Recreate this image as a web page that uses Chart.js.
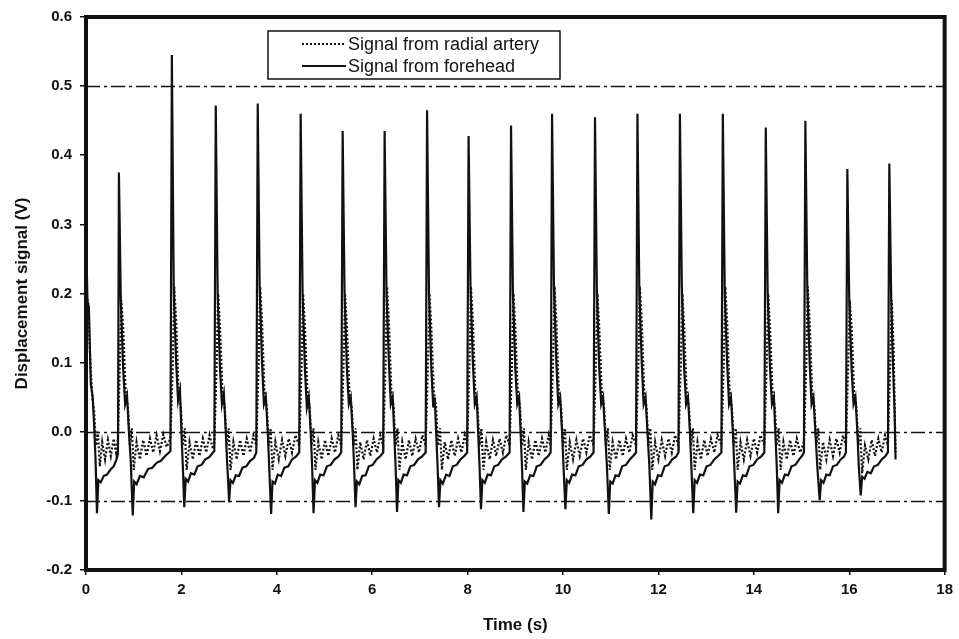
<!DOCTYPE html>
<html>
<head>
<meta charset="utf-8">
<title>Displacement signal</title>
<script src="https://cdn.jsdelivr.net/npm/chart.js@4.4.1/dist/chart.umd.min.js"></script>
<style>
  html, body { margin: 0; padding: 0; background: #fff; }
  #wrap { width: 959px; height: 639px; position: relative; }
</style>
</head>
<body>
<div id="wrap"><canvas id="pulseChart"></canvas></div>
<script>
// axis ticks
const xTicks = [0, 2, 4, 6, 8, 10, 12, 14, 16, 18];
const yTicks = [-0.2, -0.1, 0.0, 0.1, 0.2, 0.3, 0.4, 0.5, 0.6];
// dash-dot reference levels (V)
const refLevels = [0.5, 0.0, -0.1];
const seriesNames = ['Signal from radial artery', 'Signal from forehead'];

// [time (s), signal (V)] - radial artery sensor
const radial = [
  [0.00,0.19],[0.04,0.19],[0.08,0.12],[0.13,0.05],[0.17,0.03],[0.21,-0.02],[0.25,0.0],[0.29,-0.05],[0.34,-0.015],[0.40,-0.04],[0.46,-0.012],[0.52,-0.035],[0.58,-0.01],[0.63,-0.03],[0.67,-0.01],
  [0.71,0.10],[0.74,0.19],[0.78,0.15],[0.83,0.06],[0.88,0.035],[0.92,-0.02],[0.96,0.005],[1.00,-0.055],[1.06,-0.015],[1.13,-0.04],[1.20,-0.012],[1.27,-0.035],[1.34,-0.01],[1.41,-0.03],[1.48,-0.005],[1.55,-0.028],[1.62,-0.004],[1.69,-0.022],[1.77,-0.01],
  [1.82,0.10],[1.85,0.21],[1.89,0.16],[1.94,0.06],[1.99,0.035],[2.03,-0.02],[2.07,0.005],[2.11,-0.055],[2.17,-0.015],[2.24,-0.04],[2.31,-0.012],[2.38,-0.035],[2.45,-0.01],[2.52,-0.03],[2.59,-0.005],[2.66,-0.025],[2.69,-0.015],
  [2.74,0.10],[2.77,0.20],[2.81,0.15],[2.86,0.06],[2.91,0.035],[2.95,-0.02],[2.99,0.005],[3.03,-0.055],[3.09,-0.015],[3.16,-0.04],[3.23,-0.012],[3.30,-0.035],[3.37,-0.01],[3.44,-0.03],[3.51,-0.005],[3.57,-0.02],
  [3.62,0.10],[3.65,0.21],[3.69,0.16],[3.74,0.06],[3.79,0.035],[3.83,-0.02],[3.87,0.005],[3.91,-0.055],[3.97,-0.015],[4.04,-0.04],[4.11,-0.012],[4.18,-0.035],[4.25,-0.01],[4.32,-0.03],[4.39,-0.005],[4.47,-0.02],
  [4.52,0.10],[4.55,0.20],[4.59,0.15],[4.64,0.06],[4.69,0.035],[4.73,-0.02],[4.77,0.005],[4.81,-0.055],[4.87,-0.015],[4.94,-0.04],[5.01,-0.012],[5.08,-0.035],[5.15,-0.01],[5.22,-0.03],[5.29,-0.005],[5.35,-0.02],
  [5.40,0.10],[5.43,0.20],[5.47,0.15],[5.52,0.06],[5.57,0.035],[5.61,-0.02],[5.65,0.005],[5.69,-0.055],[5.75,-0.015],[5.82,-0.04],[5.89,-0.012],[5.96,-0.035],[6.03,-0.01],[6.10,-0.03],[6.17,-0.005],[6.23,-0.02],
  [6.28,0.10],[6.31,0.21],[6.35,0.16],[6.40,0.06],[6.45,0.035],[6.49,-0.02],[6.53,0.005],[6.57,-0.055],[6.63,-0.015],[6.70,-0.04],[6.77,-0.012],[6.84,-0.035],[6.91,-0.01],[6.98,-0.03],[7.05,-0.005],[7.12,-0.02],
  [7.17,0.10],[7.20,0.20],[7.24,0.15],[7.29,0.06],[7.34,0.035],[7.38,-0.02],[7.42,0.005],[7.46,-0.055],[7.52,-0.015],[7.59,-0.04],[7.66,-0.012],[7.73,-0.035],[7.80,-0.01],[7.87,-0.03],[7.94,-0.005],[7.99,-0.02],
  [8.04,0.10],[8.07,0.21],[8.11,0.16],[8.16,0.06],[8.21,0.035],[8.25,-0.02],[8.29,0.005],[8.33,-0.055],[8.39,-0.015],[8.46,-0.04],[8.53,-0.012],[8.60,-0.035],[8.67,-0.01],[8.74,-0.03],[8.81,-0.005],[8.88,-0.02],
  [8.93,0.10],[8.96,0.20],[9.00,0.15],[9.05,0.06],[9.10,0.035],[9.14,-0.02],[9.18,0.005],[9.22,-0.055],[9.28,-0.015],[9.35,-0.04],[9.42,-0.012],[9.49,-0.035],[9.56,-0.01],[9.63,-0.03],[9.70,-0.005],[9.74,-0.02],
  [9.79,0.10],[9.82,0.21],[9.86,0.16],[9.91,0.06],[9.96,0.035],[10.00,-0.02],[10.04,0.005],[10.08,-0.055],[10.14,-0.015],[10.21,-0.04],[10.28,-0.012],[10.35,-0.035],[10.42,-0.01],[10.49,-0.03],[10.56,-0.005],[10.64,-0.02],
  [10.69,0.10],[10.72,0.20],[10.76,0.15],[10.81,0.06],[10.86,0.035],[10.90,-0.02],[10.94,0.005],[10.98,-0.055],[11.04,-0.015],[11.11,-0.04],[11.18,-0.012],[11.25,-0.035],[11.32,-0.01],[11.39,-0.03],[11.46,-0.005],[11.53,-0.02],
  [11.58,0.10],[11.61,0.21],[11.65,0.16],[11.70,0.06],[11.75,0.035],[11.79,-0.02],[11.83,0.005],[11.87,-0.055],[11.93,-0.015],[12.00,-0.04],[12.07,-0.012],[12.14,-0.035],[12.21,-0.01],[12.28,-0.03],[12.35,-0.005],[12.42,-0.02],
  [12.47,0.10],[12.50,0.20],[12.54,0.15],[12.59,0.06],[12.64,0.035],[12.68,-0.02],[12.72,0.005],[12.76,-0.055],[12.82,-0.015],[12.89,-0.04],[12.96,-0.012],[13.03,-0.035],[13.10,-0.01],[13.17,-0.03],[13.24,-0.005],[13.32,-0.02],
  [13.37,0.10],[13.40,0.21],[13.44,0.16],[13.49,0.06],[13.54,0.035],[13.58,-0.02],[13.62,0.005],[13.66,-0.055],[13.72,-0.015],[13.79,-0.04],[13.86,-0.012],[13.93,-0.035],[14.00,-0.01],[14.07,-0.03],[14.14,-0.005],[14.22,-0.02],
  [14.27,0.10],[14.30,0.20],[14.34,0.15],[14.39,0.06],[14.44,0.035],[14.48,-0.02],[14.52,0.005],[14.56,-0.055],[14.62,-0.015],[14.69,-0.04],[14.76,-0.012],[14.83,-0.035],[14.90,-0.01],[14.97,-0.03],[15.05,-0.015],
  [15.10,0.10],[15.13,0.21],[15.17,0.16],[15.22,0.06],[15.27,0.035],[15.31,-0.02],[15.35,0.005],[15.39,-0.055],[15.45,-0.015],[15.52,-0.04],[15.59,-0.012],[15.66,-0.035],[15.73,-0.01],[15.80,-0.03],[15.87,-0.005],[15.93,-0.02],
  [15.98,0.10],[16.01,0.19],[16.05,0.15],[16.10,0.06],[16.15,0.035],[16.19,-0.02],[16.23,0.005],[16.27,-0.06],[16.33,-0.02],[16.40,-0.04],[16.47,-0.012],[16.54,-0.035],[16.61,-0.01],[16.68,-0.03],[16.75,-0.005],[16.81,-0.02],
  [16.86,0.10],[16.89,0.19],[16.93,0.12],[16.97,-0.03]
];

// [time (s), signal (V)] - forehead sensor
const forehead = [
  [0.00,0.30],[0.03,0.19],[0.06,0.18],[0.10,0.07],[0.14,0.05],[0.17,0.01],[0.20,-0.04],[0.23,-0.118],[0.26,-0.07],[0.31,-0.073],[0.37,-0.064],[0.44,-0.062],[0.51,-0.055],[0.58,-0.05],[0.64,-0.04],[0.67,-0.032],
  [0.69,0.375],[0.73,0.19],[0.78,0.09],[0.82,0.04],[0.86,0.052],[0.90,0.0],[0.94,-0.045],[0.98,-0.121],[1.01,-0.072],[1.06,-0.076],[1.13,-0.064],[1.21,-0.066],[1.30,-0.054],[1.39,-0.052],[1.48,-0.045],[1.57,-0.042],[1.66,-0.035],[1.74,-0.03],[1.77,-0.028],
  [1.80,0.545],[1.84,0.20],[1.89,0.10],[1.93,0.045],[1.97,0.06],[2.00,0.0],[2.03,-0.05],[2.06,-0.109],[2.09,-0.068],[2.14,-0.072],[2.20,-0.06],[2.27,-0.062],[2.34,-0.05],[2.42,-0.048],[2.50,-0.04],[2.58,-0.037],[2.66,-0.03],[2.69,-0.028],
  [2.72,0.472],[2.76,0.20],[2.81,0.09],[2.85,0.04],[2.89,0.055],[2.93,0.0],[2.96,-0.045],[3.00,-0.102],[3.03,-0.07],[3.08,-0.074],[3.14,-0.063],[3.21,-0.064],[3.28,-0.052],[3.36,-0.05],[3.44,-0.042],[3.52,-0.038],[3.57,-0.03],
  [3.60,0.475],[3.64,0.21],[3.69,0.10],[3.73,0.04],[3.77,0.05],[3.81,0.0],[3.84,-0.05],[3.88,-0.119],[3.91,-0.072],[3.96,-0.075],[4.02,-0.062],[4.09,-0.064],[4.16,-0.052],[4.24,-0.05],[4.32,-0.04],[4.40,-0.036],[4.47,-0.03],
  [4.50,0.46],[4.54,0.20],[4.59,0.09],[4.63,0.035],[4.67,0.05],[4.71,0.0],[4.74,-0.05],[4.77,-0.118],[4.80,-0.07],[4.85,-0.074],[4.91,-0.062],[4.98,-0.063],[5.05,-0.05],[5.13,-0.048],[5.21,-0.04],[5.29,-0.036],[5.35,-0.03],
  [5.38,0.435],[5.42,0.20],[5.47,0.09],[5.51,0.04],[5.55,0.05],[5.59,0.0],[5.62,-0.05],[5.65,-0.109],[5.68,-0.072],[5.73,-0.076],[5.79,-0.064],[5.86,-0.063],[5.93,-0.05],[6.01,-0.048],[6.09,-0.04],[6.17,-0.035],[6.23,-0.03],
  [6.26,0.435],[6.30,0.20],[6.35,0.10],[6.39,0.04],[6.43,0.05],[6.46,0.0],[6.49,-0.05],[6.52,-0.116],[6.55,-0.07],[6.60,-0.074],[6.66,-0.062],[6.73,-0.063],[6.80,-0.05],[6.88,-0.048],[6.96,-0.04],[7.04,-0.036],[7.12,-0.03],
  [7.15,0.465],[7.19,0.20],[7.24,0.09],[7.28,0.035],[7.31,0.05],[7.34,0.0],[7.37,-0.05],[7.40,-0.109],[7.43,-0.07],[7.48,-0.075],[7.55,-0.062],[7.62,-0.064],[7.69,-0.05],[7.77,-0.048],[7.85,-0.04],[7.93,-0.035],[7.99,-0.03],
  [8.02,0.428],[8.06,0.21],[8.11,0.10],[8.15,0.04],[8.19,0.05],[8.22,0.0],[8.25,-0.05],[8.28,-0.112],[8.31,-0.07],[8.36,-0.074],[8.42,-0.062],[8.49,-0.063],[8.56,-0.05],[8.64,-0.048],[8.72,-0.04],[8.80,-0.036],[8.88,-0.03],
  [8.91,0.443],[8.95,0.20],[9.00,0.09],[9.04,0.04],[9.08,0.05],[9.11,0.0],[9.14,-0.05],[9.17,-0.116],[9.20,-0.072],[9.25,-0.075],[9.31,-0.063],[9.38,-0.064],[9.45,-0.05],[9.53,-0.048],[9.61,-0.04],[9.69,-0.035],[9.74,-0.03],
  [9.77,0.46],[9.81,0.21],[9.86,0.10],[9.90,0.04],[9.94,0.05],[9.98,0.0],[10.01,-0.05],[10.05,-0.112],[10.08,-0.07],[10.13,-0.074],[10.19,-0.062],[10.26,-0.063],[10.33,-0.05],[10.41,-0.048],[10.49,-0.04],[10.57,-0.036],[10.64,-0.03],
  [10.67,0.455],[10.71,0.20],[10.76,0.09],[10.80,0.04],[10.84,0.05],[10.88,0.0],[10.92,-0.05],[10.96,-0.119],[10.99,-0.072],[11.04,-0.075],[11.10,-0.063],[11.17,-0.064],[11.24,-0.05],[11.32,-0.048],[11.40,-0.04],[11.47,-0.035],[11.53,-0.03],
  [11.56,0.46],[11.60,0.20],[11.65,0.10],[11.69,0.04],[11.73,0.05],[11.77,0.0],[11.81,-0.05],[11.85,-0.127],[11.88,-0.072],[11.93,-0.076],[11.99,-0.063],[12.06,-0.064],[12.13,-0.05],[12.21,-0.048],[12.29,-0.04],[12.37,-0.036],[12.42,-0.03],
  [12.45,0.46],[12.49,0.21],[12.54,0.09],[12.58,0.04],[12.62,0.05],[12.66,0.0],[12.69,-0.05],[12.73,-0.118],[12.76,-0.07],[12.81,-0.074],[12.87,-0.062],[12.94,-0.063],[13.01,-0.05],[13.09,-0.048],[13.17,-0.04],[13.25,-0.035],[13.32,-0.03],
  [13.35,0.46],[13.39,0.20],[13.44,0.10],[13.48,0.04],[13.52,0.05],[13.56,0.0],[13.59,-0.05],[13.63,-0.117],[13.66,-0.072],[13.71,-0.075],[13.77,-0.063],[13.84,-0.064],[13.91,-0.05],[13.99,-0.048],[14.07,-0.04],[14.15,-0.036],[14.22,-0.03],
  [14.25,0.44],[14.29,0.20],[14.34,0.09],[14.38,0.04],[14.42,0.05],[14.45,0.0],[14.48,-0.05],[14.51,-0.118],[14.54,-0.07],[14.59,-0.074],[14.65,-0.062],[14.72,-0.063],[14.79,-0.05],[14.87,-0.048],[14.95,-0.04],[15.01,-0.035],[15.05,-0.03],
  [15.08,0.45],[15.12,0.21],[15.17,0.10],[15.21,0.04],[15.25,0.05],[15.29,0.0],[15.33,-0.05],[15.38,-0.099],[15.41,-0.07],[15.46,-0.074],[15.52,-0.062],[15.59,-0.063],[15.66,-0.05],[15.74,-0.048],[15.82,-0.04],[15.89,-0.036],[15.93,-0.03],
  [15.96,0.38],[16.00,0.19],[16.05,0.09],[16.09,0.04],[16.13,0.05],[16.17,0.0],[16.20,-0.05],[16.24,-0.092],[16.27,-0.065],[16.32,-0.068],[16.38,-0.058],[16.45,-0.06],[16.52,-0.05],[16.60,-0.048],[16.68,-0.04],[16.76,-0.035],[16.81,-0.03],
  [16.84,0.388],[16.88,0.19],[16.92,0.09],[16.95,0.03],[16.97,-0.04]
];

const INK = '#111';
const toXY = arr => arr.map(p => ({ x: p[0], y: p[1] }));

// dash-dot horizontal levels behind the traces
const refLinePlugin = {
  id: 'refLines',
  beforeDatasetsDraw(chart) {
    const { ctx, chartArea: a, scales: { y } } = chart;
    ctx.save();
    ctx.strokeStyle = INK;
    ctx.lineWidth = 1.3;
    ctx.setLineDash([14, 4, 3, 4]);
    refLevels.forEach(v => {
      const py = Math.round(y.getPixelForValue(v)) + 0.5;
      ctx.beginPath();
      ctx.moveTo(a.left, py);
      ctx.lineTo(a.right, py);
      ctx.stroke();
    });
    ctx.restore();
  }
};

// heavy plot frame + boxed legend inside the plot
const framePlugin = {
  id: 'frameAndLegend',
  afterDraw(chart) {
    const { ctx, chartArea: a } = chart;
    ctx.save();
    ctx.strokeStyle = INK;
    ctx.lineWidth = 4;
    ctx.strokeRect(a.left, a.top, a.right - a.left, a.bottom - a.top);

    const bx = 268, by = 31, bw = 292, bh = 48;
    ctx.fillStyle = '#fff';
    ctx.fillRect(bx, by, bw, bh);
    ctx.lineWidth = 1.5;
    ctx.strokeRect(bx, by, bw, bh);

    ctx.font = '18px "Liberation Sans Narrow", "Liberation Sans", Arial, sans-serif';
    ctx.textBaseline = 'middle';
    ctx.fillStyle = INK;
    chart.data.datasets.forEach((ds, i) => {
      const ly = by + 13 + i * 22;
      ctx.beginPath();
      ctx.lineWidth = 2;
      ctx.setLineDash(ds.borderDash || []);
      ctx.moveTo(bx + 34, ly);
      ctx.lineTo(bx + 78, ly);
      ctx.stroke();
      ctx.setLineDash([]);
      ctx.fillText(ds.label, bx + 80, ly + 1);
    });
    ctx.restore();
  }
};

const tickFont = { family: '"Liberation Sans", Arial, sans-serif', size: 15, weight: 'bold' };
const titleFont = { family: '"Liberation Sans", Arial, sans-serif', size: 17, weight: 'bold' };

new Chart(document.getElementById('pulseChart'), {
  type: 'line',
  data: {
    datasets: [
      {
        label: seriesNames[0],
        data: toXY(radial),
        borderColor: INK,
        borderWidth: 2.2,
        borderDash: [2, 2],
        pointRadius: 0,
        tension: 0
      },
      {
        label: seriesNames[1],
        data: toXY(forehead),
        borderColor: INK,
        borderWidth: 2.2,
        pointRadius: 0,
        tension: 0
      }
    ]
  },
  options: {
    responsive: true,
    maintainAspectRatio: false,
    animation: false,
    devicePixelRatio: 1,
    layout: { padding: { left: 0, top: 15, right: 12, bottom: 0 } },
    plugins: { legend: { display: false }, tooltip: { enabled: false } },
    scales: {
      x: {
        type: 'linear',
        min: 0, max: 18,
        afterBuildTicks: s => { s.ticks = xTicks.map(v => ({ value: v })); },
        afterFit: s => { s.height = 69; },
        ticks: { color: INK, font: tickFont, padding: 6, maxRotation: 0 },
        grid: { drawOnChartArea: false, tickLength: 5, color: INK, lineWidth: 1.5 },
        border: { display: false },
        title: { display: true, text: 'Time (s)', color: INK, font: titleFont, padding: { bottom: 3 } }
      },
      y: {
        min: -0.2, max: 0.6,
        afterBuildTicks: s => { s.ticks = yTicks.map(v => ({ value: v })); },
        afterFit: s => { s.width = 86; },
        ticks: { color: INK, font: tickFont, padding: 8, callback: v => v.toFixed(1) },
        grid: { drawOnChartArea: false, tickLength: 6, color: INK, lineWidth: 1.5 },
        border: { display: false },
        title: { display: true, text: 'Displacement signal (V)', color: INK, font: titleFont, padding: { top: 12 } }
      }
    }
  },
  plugins: [refLinePlugin, framePlugin]
});
</script>
</body>
</html>
